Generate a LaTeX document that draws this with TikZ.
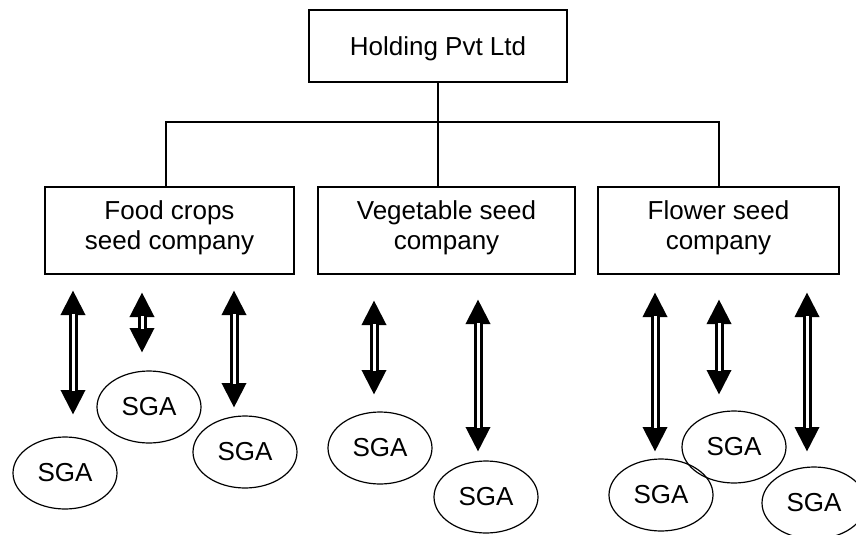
\documentclass[tikz,border=0pt]{standalone}
\usepackage{fontspec}
\setmainfont{Liberation Sans}
\usetikzlibrary{arrows.meta,shapes.geometric}
\begin{document}
\begin{tikzpicture}[x=1pt,y=-1pt,
  font=\fontsize{26}{30}\selectfont,
  company/.style={draw, line width=1.5pt, rectangle,
    inner sep=0pt, minimum height=87pt},
  caption/.style={align=center, inner sep=0pt, anchor=north},
  sga/.style={draw, line width=1.2pt, ellipse, inner sep=0pt,
    minimum width=104pt, minimum height=72pt},
  tree/.style={line width=1.2pt},
  link/.style={line width=9pt,
    {Triangle[length=25pt,width=23pt]}-{Triangle[length=25pt,width=23pt]},
    postaction={draw=white, line width=3pt, -, shorten <=24pt, shorten >=24pt}}]
\useasboundingbox (0,0) rectangle (856,535);

% holding company and its three seed companies
\node[company, minimum width=258pt, minimum height=72pt, text depth=0pt] (hold) at (438,46) {Holding Pvt Ltd};
\node[company, minimum width=249pt] (food)   at (169.5,230.5) {};
\node[company, minimum width=257pt] (veg)    at (446.5,230.5) {};
\node[company, minimum width=241pt] (flower) at (718.5,230.5) {};
\node[caption] (foodtxt)   at (food.center |- 0,200)   {Food crops\\seed company};
\node[caption] (vegtxt)    at (veg.center |- 0,200)    {Vegetable seed\\company};
\node[caption] (flowertxt) at (flower.center |- 0,200) {Flower seed\\company};

% branching lines
\coordinate (jl) at (166,122);
\coordinate (jr) at (719,122);
\draw[tree] (jl |- food.north) -- (jl) -- (jr) -- (jr |- flower.north);
\draw[tree] (hold.south) -- (hold.south |- veg.north);

% self-help groups
\node[sga] (e1) at (65,473)  {SGA};
\node[sga] (e2) at (149,407) {SGA};
\node[sga] (e3) at (245,452) {SGA};
\node[sga] (e4) at (380,448) {SGA};
\node[sga] (e5) at (486,497) {SGA};
\node[sga] (e6) at (661,495) {SGA};
\node[sga] (e7) at (734,447) {SGA};
\node[sga] (e8) at (814,503) {SGA};

% two-way links between companies and groups
\coordinate (a1t) at (73,290);  \coordinate (a1b) at (73,415);
\coordinate (a2t) at (142,292); \coordinate (a2b) at (142,353);
\coordinate (a3t) at (234,290); \coordinate (a3b) at (234,408);
\coordinate (a4t) at (374,300); \coordinate (a4b) at (374,395);
\coordinate (a5t) at (478,299); \coordinate (a5b) at (478,452);
\coordinate (a6t) at (655,292); \coordinate (a6b) at (655,452);
\coordinate (a7t) at (719,299); \coordinate (a7b) at (719,395);
\coordinate (a8t) at (807,292); \coordinate (a8b) at (807,452);
\foreach \k in {1,...,8} {
  \draw[link] (a\k t) -- (a\k b);
}
\end{tikzpicture}
\end{document}
